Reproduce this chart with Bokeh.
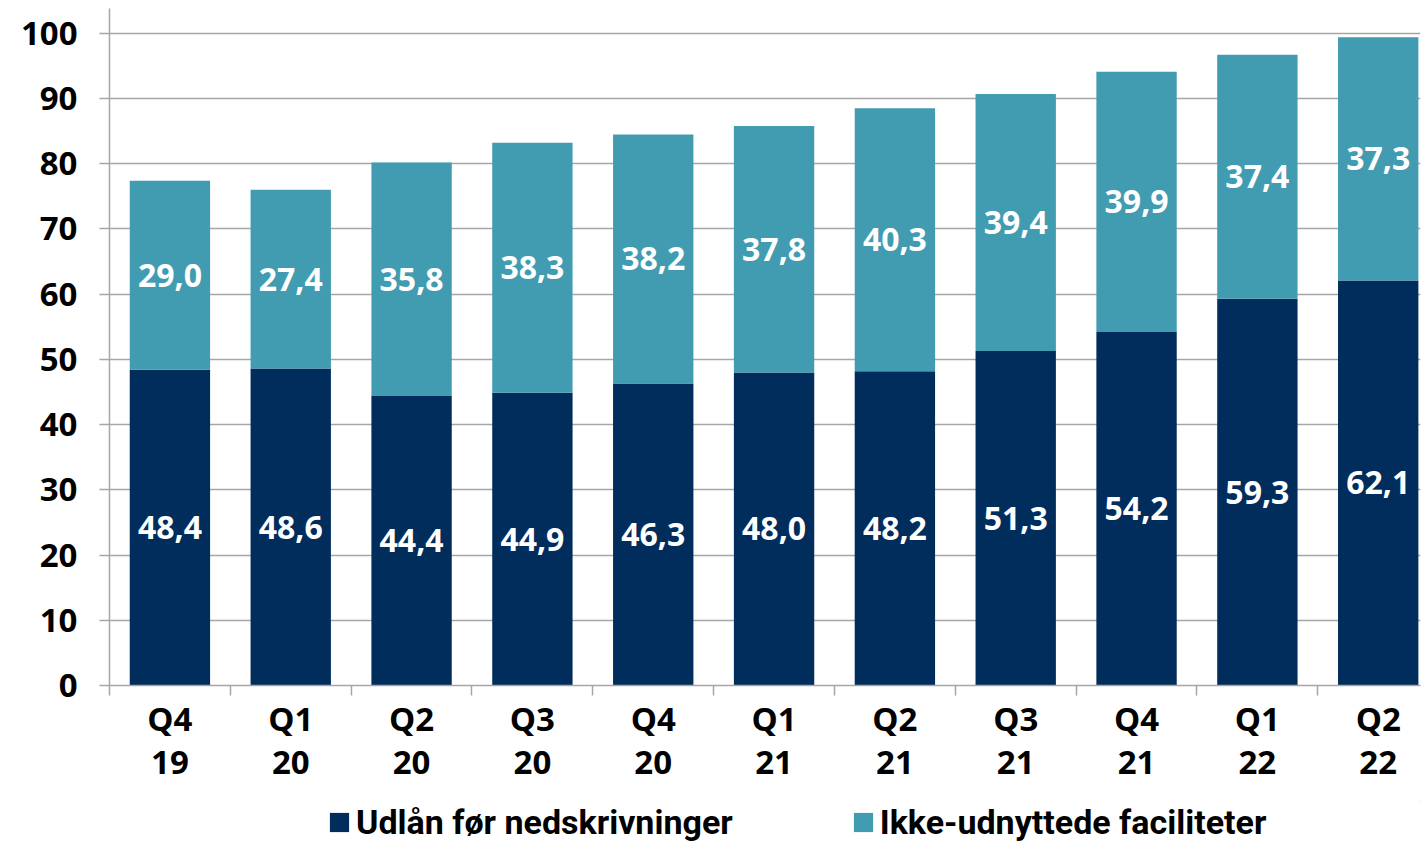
from bokeh.plotting import figure
from bokeh.layouts import column
from bokeh.models import (ColumnDataSource, Range1d, FixedTicker, LinearAxis,
                          Legend, LegendItem)
from bokeh.core.properties import value
from bokeh.embed import file_html
from bokeh.resources import INLINE

quarters = ["Q4", "Q1", "Q2", "Q3", "Q4", "Q1", "Q2", "Q3", "Q4", "Q1", "Q2"]
years = ["19", "20", "20", "20", "20", "21", "21", "21", "21", "22", "22"]
udlaan = [48.4, 48.6, 44.4, 44.9, 46.3, 48.0, 48.2, 51.3, 54.2, 59.3, 62.1]
ikke_udnyttede = [29.0, 27.4, 35.8, 38.3, 38.2, 37.8, 40.3, 39.4, 39.9, 37.4, 37.3]
series_names = ["Udlån før nedskrivninger", "Ikke-udnyttede faciliteter"]
y_ticks = [0, 10, 20, 30, 40, 50, 60, 70, 80, 90, 100]

DARK = "#002D5C"
TEAL = "#419CB2"
GRID = "#A6A6A6"
FONT = "Open Sans"

xs = list(range(len(quarters)))
top1 = udlaan
top2 = [a + b for a, b in zip(udlaan, ikke_udnyttede)]
mid1 = [a / 2 for a in udlaan]
mid2 = [a + b / 2 for a, b in zip(udlaan, ikke_udnyttede)]
lab1 = [f"{v:.1f}".replace(".", ",") for v in udlaan]
lab2 = [f"{v:.1f}".replace(".", ",") for v in ikke_udnyttede]

src = ColumnDataSource(dict(x=xs, top1=top1, top2=top2, bottom2=top1,
                            mid1=mid1, mid2=mid2, lab1=lab1, lab2=lab2))

p = figure(width=1425, height=800, output_backend="svg", toolbar_location=None,
           x_range=Range1d(-0.5, 10.35), y_range=Range1d(0, 103.8),
           min_border_left=109, min_border_right=5, min_border_top=8,
           min_border_bottom=115, x_axis_location=None)
p.outline_line_color = None
p.background_fill_color = "white"
p.border_fill_color = "white"

r1 = p.vbar(x="x", top="top1", bottom=0, width=0.665, source=src,
            fill_color=DARK, line_color=None)
r2 = p.vbar(x="x", top="top2", bottom="bottom2", width=0.665, source=src,
            fill_color=TEAL, line_color=None)

for ycol, tcol in (("mid1", "lab1"), ("mid2", "lab2")):
    p.text(x="x", y=ycol, text=tcol, source=src, text_color="white",
           text_font=value(FONT), text_font_size="32px", text_font_style="bold",
           text_align="center", text_baseline="middle")

# y axis
ya = p.yaxis[0]
ya.ticker = FixedTicker(ticks=y_ticks)
ya.axis_line_color = GRID
ya.axis_line_width = 1.5
ya.major_tick_line_color = GRID
ya.major_tick_line_width = 1.5
ya.major_tick_out = 10
ya.major_tick_in = 0
ya.minor_tick_line_color = None
ya.major_label_text_font = FONT
ya.major_label_text_font_size = "33px"
ya.major_label_text_font_style = "bold"
ya.major_label_text_color = "black"
ya.major_label_standoff = 22

p.ygrid.ticker = FixedTicker(ticks=y_ticks[1:])
p.ygrid.grid_line_color = GRID
p.ygrid.grid_line_width = 1.5
p.xgrid.grid_line_color = None

# x axis: quarter labels + separators
xa1 = LinearAxis(ticker=FixedTicker(ticks=xs,
                 minor_ticks=[i - 0.5 for i in xs]))
xa1.major_label_overrides = {i: q for i, q in enumerate(quarters)}
xa1.axis_line_color = GRID
xa1.axis_line_width = 1.5
xa1.major_tick_line_color = None
xa1.major_tick_out = 10
xa1.major_tick_in = 0
xa1.minor_tick_line_color = GRID
xa1.minor_tick_line_width = 1.5
xa1.minor_tick_out = 10
xa1.minor_tick_in = 0
xa1.major_label_text_font = FONT
xa1.major_label_text_font_size = "33px"
xa1.major_label_text_font_style = "bold"
xa1.major_label_text_color = "black"
xa1.major_label_standoff = 0
p.add_layout(xa1, "below")

xa2 = LinearAxis(ticker=FixedTicker(ticks=xs))
xa2.major_label_overrides = {i: y for i, y in enumerate(years)}
xa2.axis_line_color = None
xa2.major_tick_line_color = None
xa2.minor_tick_line_color = None
xa2.major_tick_out = 0
xa2.major_tick_in = 0
xa2.major_label_text_font = FONT
xa2.major_label_text_font_size = "33px"
xa2.major_label_text_font_style = "bold"
xa2.major_label_text_color = "black"
xa2.major_label_standoff = 7
p.add_layout(xa2, "below")

# legend strip
lg = figure(width=1425, height=42, output_backend="svg", toolbar_location=None,
            x_range=Range1d(0, 1), y_range=Range1d(0, 1),
            min_border_left=0, min_border_right=0, min_border_top=0,
            min_border_bottom=0, x_axis_location=None, y_axis_location=None)
lg.outline_line_color = None
lg.xgrid.visible = False
lg.ygrid.visible = False
dummy = ColumnDataSource(dict(x=[10], top=[10], bottom=[9]))
d1 = lg.vbar(x="x", top="top", bottom="bottom", width=0.1, source=dummy,
             fill_color=DARK, line_color=None)
d2 = lg.vbar(x="x", top="top", bottom="bottom", width=0.1, source=dummy,
             fill_color=TEAL, line_color=None)

legend = Legend(items=[LegendItem(label=series_names[0], renderers=[d1]),
                       LegendItem(label=series_names[1], renderers=[d2])],
                orientation="horizontal", location=(218, 0),
                border_line_color=None, background_fill_alpha=0,
                padding=0, margin=0, spacing=118,
                glyph_width=24, glyph_height=24, label_standoff=5,
                label_text_font="Roboto",
                label_text_font_size="34px", label_text_font_style="bold",
                label_text_color="black", label_height=36)
lg.add_layout(legend, "center")

layout = column(p, lg, spacing=0)
open("out.html", "w").write(file_html(layout, INLINE))
